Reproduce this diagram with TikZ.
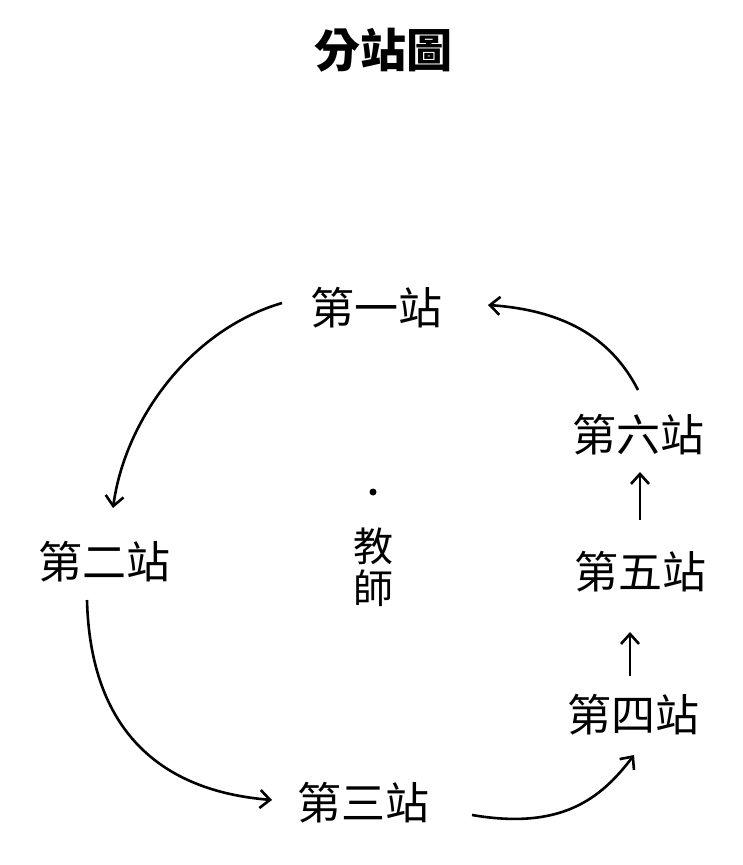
\documentclass[tikz,border=0pt]{standalone}
\usepackage{fontspec}
\usetikzlibrary{arrows.meta}
\setmainfont{Noto Sans CJK TC}
\begin{document}
\begin{tikzpicture}[x=1pt,y=-1pt,
  station/.style={font=\fontsize{44}{48}\selectfont, inner sep=0pt},
  flow/.style={->, line width=2.6pt, >={Straight Barb[length=10pt,width=18pt]}}]
\useasboundingbox (0,0) rectangle (742,865);
% Title
\node[font=\fontsize{46}{50}\selectfont\bfseries] (title) at (383,50) {分站圖};
% Stations
\node[station] (s1) at (376,308) {第一站};
\node[station] (s2) at (104,562) {第二站};
\node[station] (s3) at (363,803) {第三站};
\node[station] (s4) at (633,715) {第四站};
\node[station] (s5) at (640,572) {第五站};
\node[station] (s6) at (638,435) {第六站};
% Teacher
\fill (373,492) circle (3.5pt);
\node[station, font=\fontsize{40}{44}\selectfont, align=center] (teacher) at (373,567) {教\\[-2pt]師};
% Arrows
\coordinate (a1) at (282,303);
\coordinate (a2) at (113,508);
\draw[flow] (a1) .. controls (190,330) and (125,420) .. (a2);
\coordinate (b1) at (87,600);
\coordinate (b2) at (272,800);
\draw[flow] (b1) .. controls (90,720) and (150,790) .. (b2);
\coordinate (c1) at (472,815);
\coordinate (c2) at (634,755);
\draw[flow] (c1) .. controls (560,830) and (600,800) .. (c2);
\coordinate (e1) at (630,676);
\coordinate (e2) at (630,632);
\draw[flow] (e1) -- (e2);
\coordinate (f1) at (640,520);
\coordinate (f2) at (640,472);
\draw[flow] (f1) -- (f2);
\coordinate (d1) at (638,390);
\coordinate (d2) at (488,305);
\draw[flow] (d1) .. controls (610,335) and (560,310) .. (d2);
\end{tikzpicture}
\end{document}
